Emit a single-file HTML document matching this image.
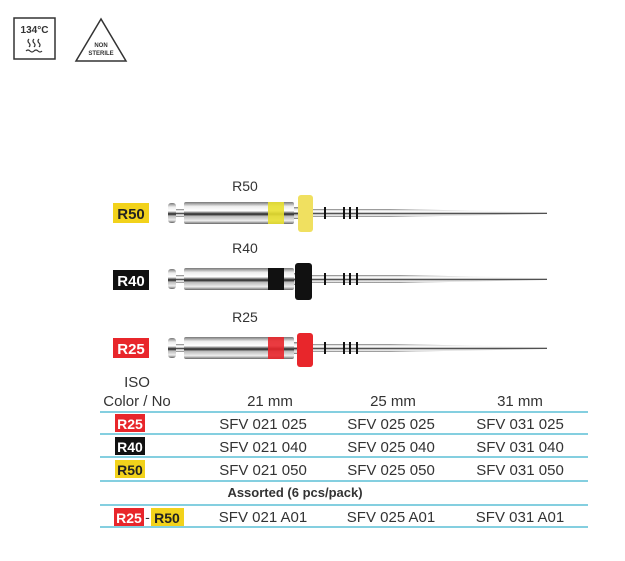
<!DOCTYPE html>
<html><head><meta charset="utf-8"><style>
body{margin:0;background:#fff;width:625px;height:561px;overflow:hidden;font-family:"Liberation Sans",Arial,sans-serif}
svg{position:absolute;left:0;top:0}
</style></head><body>
<svg width="625" height="561" viewBox="0 0 625 561" font-family="Liberation Sans, Arial, sans-serif">
<defs>
<linearGradient id="m" x1="0" y1="0" x2="0" y2="1">
<stop offset="0" stop-color="#777"/><stop offset="0.2" stop-color="#eee"/><stop offset="0.4" stop-color="#fff"/><stop offset="0.55" stop-color="#222"/><stop offset="0.65" stop-color="#bbb"/><stop offset="0.85" stop-color="#eee"/><stop offset="1" stop-color="#666"/>
</linearGradient>
</defs>
<!-- icons -->
<rect x="14" y="18" width="41" height="41" fill="none" stroke="#333" stroke-width="1.5"/>
<text x="34.5" y="33" font-size="10" font-weight="bold" text-anchor="middle" fill="#333">134°C</text>
<g fill="none" stroke="#333" stroke-width="1.2">
<path d="M29 39 q-2 2 0 4 q2 2 0 4"/>
<path d="M34 39 q-2 2 0 4 q2 2 0 4"/>
<path d="M39 39 q-2 2 0 4 q2 2 0 4"/>
<path d="M26 51 q2 -2 4 0 q2 2 4 0 q2 -2 4 0 q2 2 4 0"/>
</g>
<polygon points="101,19 76,61 126,61" fill="none" stroke="#333" stroke-width="1.5"/>
<text x="101" y="47" font-size="6" font-weight="bold" text-anchor="middle" fill="#333">NON</text>
<text x="101" y="55" font-size="6" font-weight="bold" text-anchor="middle" fill="#333">STERILE</text>

<!-- R50 -->
<text x="245" y="191" font-size="14" text-anchor="middle" fill="#333">R50</text>
<rect x="113" y="203" width="36" height="20" fill="#f2d21b"/>
<text x="131" y="219" font-size="15" font-weight="bold" text-anchor="middle" fill="#222">R50</text>
<rect x="168" y="203" width="8" height="20" rx="3" fill="url(#m)"/>
<rect x="176" y="209" width="8" height="8" fill="url(#m)"/>
<rect x="184" y="202" width="110" height="22" rx="2" fill="url(#m)"/>
<rect x="268" y="202" width="16" height="22" fill="#e8e030" opacity="0.9"/>
<rect x="294" y="207" width="6" height="12" fill="url(#m)"/>
<rect x="298" y="195" width="15" height="37" rx="3" fill="#f0e060"/>
<polygon points="313,209 390,209 547,212 547,214 390,217 313,217" fill="url(#m)"/>
<g fill="#111"><rect x="324" y="207" width="2" height="12"/><rect x="343" y="207" width="2" height="12"/><rect x="349" y="207" width="2" height="12"/><rect x="356" y="207" width="2" height="12"/></g>
<!-- R40 -->
<text x="245" y="253" font-size="14" text-anchor="middle" fill="#333">R40</text>
<rect x="113" y="270" width="36" height="20" fill="#111"/>
<text x="131" y="286" font-size="15" font-weight="bold" text-anchor="middle" fill="#fff">R40</text>
<rect x="168" y="269" width="8" height="20" rx="3" fill="url(#m)"/>
<rect x="176" y="275" width="8" height="8" fill="url(#m)"/>
<rect x="184" y="268" width="110" height="22" rx="2" fill="url(#m)"/>
<rect x="268" y="268" width="16" height="22" fill="#111"/>
<rect x="294" y="273" width="6" height="12" fill="url(#m)"/>
<rect x="295" y="263" width="17" height="37" rx="3" fill="#111"/>
<polygon points="312,275 400,275 547,278 547,280 400,283 312,283" fill="url(#m)"/>
<g fill="#111"><rect x="324" y="273" width="2" height="12"/><rect x="343" y="273" width="2" height="12"/><rect x="349" y="273" width="2" height="12"/><rect x="356" y="273" width="2" height="12"/></g>
<!-- R25 -->
<text x="245" y="322" font-size="14" text-anchor="middle" fill="#333">R25</text>
<rect x="113" y="338" width="36" height="20" fill="#e8262b"/>
<text x="131" y="354" font-size="15" font-weight="bold" text-anchor="middle" fill="#fff">R25</text>
<rect x="168" y="338" width="8" height="20" rx="3" fill="url(#m)"/>
<rect x="176" y="344" width="8" height="8" fill="url(#m)"/>
<rect x="184" y="337" width="110" height="22" rx="2" fill="url(#m)"/>
<rect x="268" y="337" width="16" height="22" fill="#e8262b" opacity="0.9"/>
<rect x="294" y="342" width="6" height="12" fill="url(#m)"/>
<rect x="297" y="333" width="16" height="34" rx="3" fill="#e8262b"/>
<polygon points="313,344 390,344 547,347 547,349 390,352 313,352" fill="url(#m)"/>
<g fill="#111"><rect x="324" y="342" width="2" height="12"/><rect x="343" y="342" width="2" height="12"/><rect x="349" y="342" width="2" height="12"/><rect x="356" y="342" width="2" height="12"/></g>

<!-- table -->
<g font-size="15" fill="#333" text-anchor="middle">
<text x="137" y="387">ISO</text>
<text x="137" y="406">Color / No</text>
<text x="270" y="406">21 mm</text>
<text x="393" y="406">25 mm</text>
<text x="520" y="406">31 mm</text>
</g>
<g stroke="#5bbfd6" stroke-width="1.5">
<line x1="100" y1="412" x2="588" y2="412"/><line x1="100" y1="434" x2="588" y2="434"/>
<line x1="100" y1="457" x2="588" y2="457"/><line x1="100" y1="481" x2="588" y2="481"/>
<line x1="100" y1="505" x2="588" y2="505"/><line x1="100" y1="527" x2="588" y2="527"/>
</g>
<rect x="115" y="414" width="30" height="18" fill="#e8262b"/>
<rect x="115" y="437" width="30" height="18" fill="#111"/>
<rect x="115" y="460" width="30" height="18" fill="#f2d21b"/>
<rect x="114" y="508" width="30" height="18" fill="#e8262b"/>
<rect x="151" y="508" width="33" height="18" fill="#f2d21b"/>
<g font-size="14" font-weight="bold" text-anchor="middle">
<text x="130" y="429" fill="#fff">R25</text>
<text x="130" y="452" fill="#fff">R40</text>
<text x="130" y="475" fill="#222">R50</text>
<text x="129" y="523" fill="#fff">R25</text>
<text x="147.5" y="522" fill="#333" font-weight="normal">-</text>
<text x="167" y="523" fill="#222">R50</text>
<text x="295" y="497" fill="#333" font-size="13">Assorted (6 pcs/pack)</text>
</g>
<g font-size="15" fill="#333" text-anchor="middle">
<text x="263" y="429">SFV 021 025</text><text x="391" y="429">SFV 025 025</text><text x="520" y="429">SFV 031 025</text>
<text x="263" y="452">SFV 021 040</text><text x="391" y="452">SFV 025 040</text><text x="520" y="452">SFV 031 040</text>
<text x="263" y="475">SFV 021 050</text><text x="391" y="475">SFV 025 050</text><text x="520" y="475">SFV 031 050</text>
<text x="263" y="522">SFV 021 A01</text><text x="391" y="522">SFV 025 A01</text><text x="520" y="522">SFV 031 A01</text>
</g>
</svg>
</body></html>
